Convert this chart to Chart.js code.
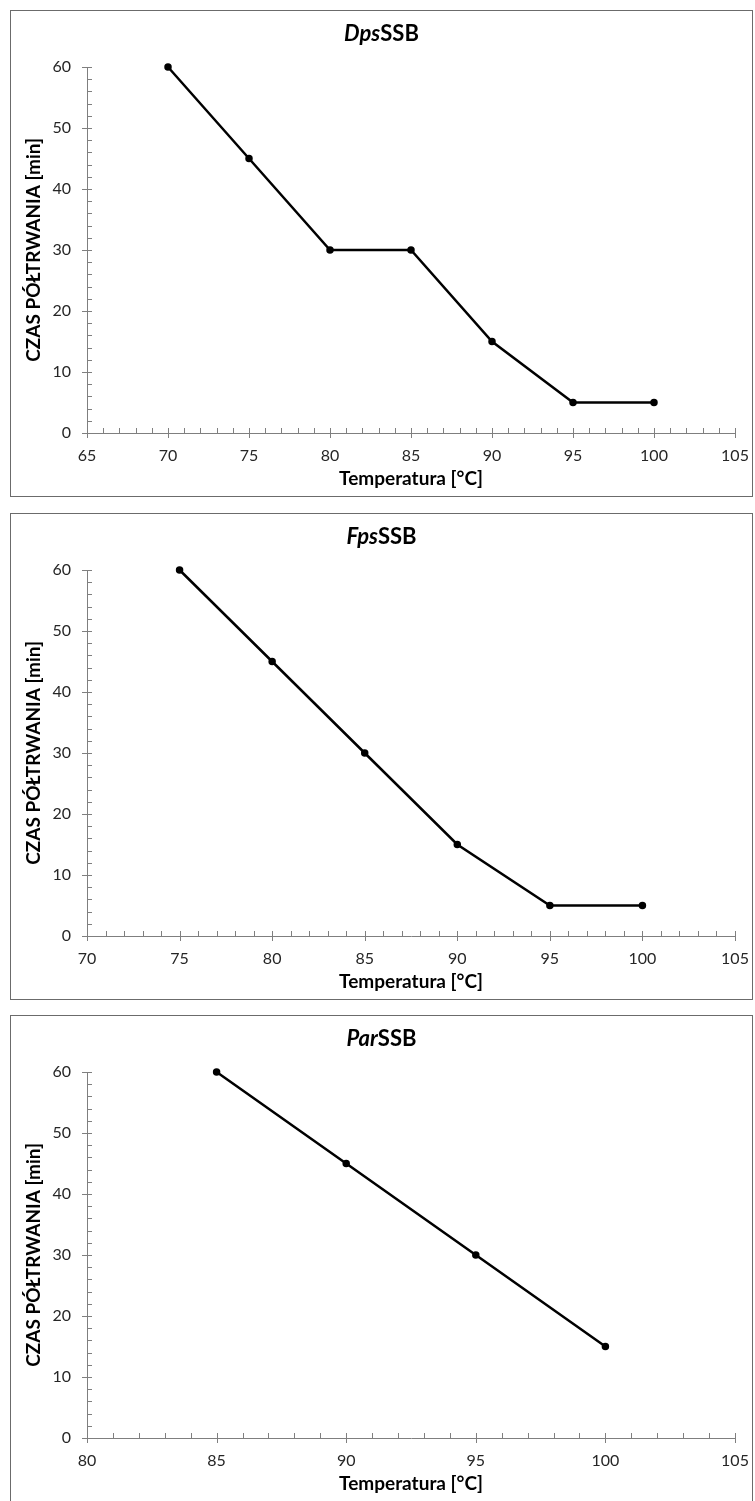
<!DOCTYPE html>
<html>
<head>
<meta charset="utf-8">
<script src="https://cdn.jsdelivr.net/npm/chart.js@4.4.1/dist/chart.umd.min.js"></script>
<style>
  body { margin: 0; background: #fff; width: 755px; height: 1501px; overflow: hidden; position: relative; }
  .panel { position: absolute; left: 10px; width: 743px; box-sizing: border-box; border: 1px solid #6b6b6b; background: #fff; }
  .panel canvas { position: absolute; left: 0; top: 0; }
  .title { position: absolute; left: 0; right: 0; top: 9px; text-align: center; font: bold 22px Lato, sans-serif; line-height: 26px; color: #000; }
</style>
</head>
<body>
<div class="panel" id="p1"><canvas id="c1"></canvas><div class="title"><i>Dps</i>SSB</div></div>
<div class="panel" id="p2"><canvas id="c2"></canvas><div class="title"><i>Fps</i>SSB</div></div>
<div class="panel" id="p3"><canvas id="c3"></canvas><div class="title"><i>Par</i>SSB</div></div>
<script>
// data
var dpsTemp = [70, 75, 80, 85, 90, 95, 100];
var dpsTime = [60, 45, 30, 30, 15, 5, 5];

var fpsTemp = [75, 80, 85, 90, 95, 100];
var fpsTime = [60, 45, 30, 15, 5, 5];

var parTemp = [85, 90, 95, 100];
var parTime = [60, 45, 30, 15];

var dpsRange = [65, 105];
var fpsRange = [70, 105];
var parRange = [80, 105];
var timeRange = [0, 60];

var xTitle = "Temperatura [°C]";
var yTitle = "CZAS PÓŁTRWANIA [min]";

const axisColor = "#7f7f7f";
const font = "Lato, sans-serif";

// excel style tick marks: majors cross the axis, minors only inside
const tickMarks = {
  id: "tickMarks",
  afterDraw(chart) {
    const { ctx, scales: { x, y } } = chart;
    ctx.save();
    ctx.strokeStyle = axisColor;
    ctx.lineWidth = 1;
    for (let v = x.min; v <= x.max + 1e-6; v += 1) {
      const px = Math.round(x.getPixelForValue(v)) + 0.5;
      const major = Math.abs(v % 5) < 1e-6;
      ctx.beginPath();
      ctx.moveTo(px, y.bottom - 5);
      ctx.lineTo(px, y.bottom + (major ? 5 : 0));
      ctx.stroke();
    }
    for (let v = y.min; v <= y.max + 1e-6; v += 2) {
      const py = Math.round(y.getPixelForValue(v)) + 0.5;
      const major = Math.abs(v % 10) < 1e-6;
      ctx.beginPath();
      ctx.moveTo(x.left - (major ? 5 : 0), py);
      ctx.lineTo(x.left + 5, py);
      ctx.stroke();
    }
    ctx.restore();
  }
};

function makeChart(id, panelId, temps, times, range, top) {
  const panel = document.getElementById(panelId);
  const height = 487;
  panel.style.top = top + "px";
  panel.style.height = height + "px";
  const canvas = document.getElementById(id);
  const cw = 741, ch = height - 2;
  canvas.width = cw;
  canvas.height = ch;
  const plotTop = 56, plotBottom = 422; // relative to canvas
  const xBox = 57;

  new Chart(canvas, {
    type: "scatter",
    data: {
      datasets: [{
        data: temps.map((t, i) => ({ x: t, y: times[i] })),
        showLine: true,
        clip: false,
        borderColor: "#000",
        backgroundColor: "#000",
        borderWidth: 2.5,
        pointRadius: 2.5,
        pointHoverRadius: 2.5,
        tension: 0
      }]
    },
    options: {
      responsive: false,
      animation: false,
      events: [],
      layout: {
        padding: { top: plotTop, right: 17, bottom: ch - plotBottom - xBox, left: 0 }
      },
      plugins: { legend: { display: false }, tooltip: { enabled: false } },
      scales: {
        x: {
          type: "linear",
          min: range[0],
          max: range[1],
          afterFit: s => { s.height = xBox; s.paddingLeft = 0; s.paddingRight = 0; },
          grid: { display: false, drawTicks: false },
          border: { display: true, color: axisColor, width: 1 },
          ticks: { stepSize: 5, padding: 13, color: "#262626", font: { family: font, size: 16 } },
          title: { display: true, text: xTitle, color: "#000", padding: 0, font: { family: font, size: 19, weight: "bold" } }
        },
        y: {
          min: timeRange[0],
          max: timeRange[1],
          afterFit: s => { s.width = 76; s.paddingTop = 0; s.paddingBottom = 0; },
          grid: { display: false, drawTicks: false },
          border: { display: true, color: axisColor, width: 1 },
          ticks: { stepSize: 10, padding: 16, color: "#262626", font: { family: font, size: 16 } },
          title: { display: true, text: yTitle, color: "#000", padding: { top: 11, bottom: 0 }, font: { family: font, size: 19, weight: "bold" } }
        }
      }
    },
    plugins: [tickMarks]
  });
}

makeChart("c1", "p1", dpsTemp, dpsTime, dpsRange, 10);
makeChart("c2", "p2", fpsTemp, fpsTime, fpsRange, 513);
makeChart("c3", "p3", parTemp, parTime, parRange, 1015);
</script>
</body>
</html>
